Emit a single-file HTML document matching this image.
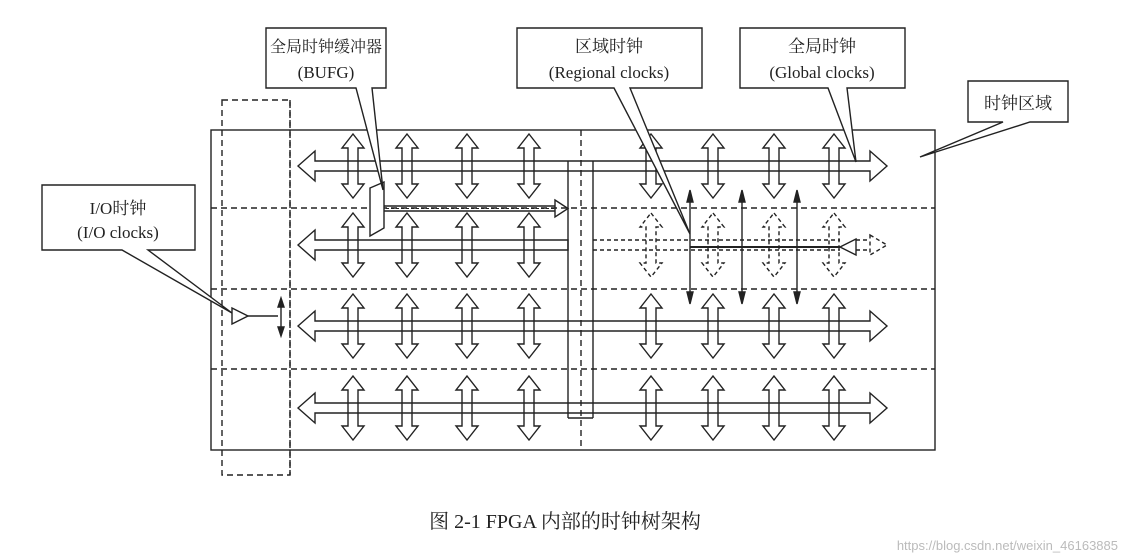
<!DOCTYPE html>
<html><head><meta charset="utf-8"><style>
html,body{margin:0;padding:0;background:#fff;}
svg{display:block;}
text{font-family:"Liberation Serif","Noto Serif CJK SC",serif;fill:#222;}
</style></head><body>
<svg id="s" width="1127" height="560" viewBox="0 0 1127 560" xmlns="http://www.w3.org/2000/svg">
<g stroke="#222" fill="none" stroke-width="1.4">
<rect x="211" y="130" width="724" height="320"/>
<rect x="222" y="100" width="68" height="375" stroke-dasharray="6,4"/>
<line x1="290" y1="100" x2="290" y2="475" stroke-dasharray="6,4"/>
<line x1="211" y1="208" x2="935" y2="208" stroke-dasharray="6,4"/>
<line x1="211" y1="289" x2="935" y2="289" stroke-dasharray="6,4"/>
<line x1="211" y1="369" x2="935" y2="369" stroke-dasharray="6,4"/>
<line x1="581" y1="130" x2="581" y2="450" stroke-dasharray="6,4"/>
<line x1="568" y1="161" x2="568" y2="418"/>
<line x1="593" y1="161" x2="593" y2="418"/>
<line x1="568" y1="418" x2="593" y2="418"/>
</g>
<g id="shapes" stroke="#222" fill="none" stroke-width="1.4"></g>
<g stroke="#222" fill="#fff" stroke-width="1.4">
<path d="M266,28 H386 V88 H372 L383,190 L356,88 H266 Z"/>
<path d="M517,28 H702 V88 H630 L690,234 L614,88 H517 Z"/>
<path d="M740,28 H905 V88 H847 L856,162 L828,88 H740 Z"/>
<path d="M968,81 H1068 V122 H1030 L920,157 L1003,122 H968 Z"/>
<path d="M42,185 H195 V250 H148 L232,313 L122,250 H42 Z"/>
</g>
<g font-size="17" text-anchor="middle">
<text x="326" y="52" font-size="16">全局时钟缓冲器</text>
<text x="326" y="78">(BUFG)</text>
<text x="609" y="52">区域时钟</text>
<text x="609" y="78">(Regional clocks)</text>
<text x="822" y="52">全局时钟</text>
<text x="822" y="78">(Global clocks)</text>
<text x="1018" y="109">时钟区域</text>
<text x="118" y="214">I/O时钟</text>
<text x="118" y="238">(I/O clocks)</text>
</g>
<text x="565" y="528" font-size="20" text-anchor="middle">图 2-1 FPGA 内部的时钟树架构</text>
<text x="1118" y="550" font-size="13" text-anchor="end" style="font-family:'Liberation Sans',sans-serif;fill:#bbb">https://blog.csdn.net/weixin_46163885</text>
</svg>
<script>
var g=document.getElementById('shapes'),NS='http://www.w3.org/2000/svg';
function P(pts,attrs){var e=document.createElementNS(NS,'polygon');e.setAttribute('points',pts.map(function(p){return p.join(',')}).join(' '));for(var k in attrs)e.setAttribute(k,attrs[k]);g.appendChild(e);}
function L(x1,y1,x2,y2,attrs){var e=document.createElementNS(NS,'line');e.setAttribute('x1',x1);e.setAttribute('y1',y1);e.setAttribute('x2',x2);e.setAttribute('y2',y2);for(var k in attrs)e.setAttribute(k,attrs[k]);g.appendChild(e);}
function V(cx,cy,a){P([[cx,cy-32],[cx+11,cy-18],[cx+5,cy-18],[cx+5,cy+18],[cx+11,cy+18],[cx,cy+32],[cx-11,cy+18],[cx-5,cy+18],[cx-5,cy-18],[cx-11,cy-18]],a||{});}
function H2(cy,x1,x2){P([[x1,cy],[x1+17,cy-15],[x1+17,cy-5],[x2-17,cy-5],[x2-17,cy-15],[x2,cy],[x2-17,cy+15],[x2-17,cy+5],[x1+17,cy+5],[x1+17,cy+15]]);}
var rows=[166,245,326,408];
H2(166,298,887);H2(326,298,887);H2(408,298,887);
P([[298,245],[315,230],[315,240],[568,240],[568,250],[315,250],[315,260]]);
var d={'stroke-dasharray':'4,3'};
L(593,240,840,240,d);L(593,250,840,250,d);
P([[870,235],[887,245],[870,255]],{'stroke-dasharray':'4,3'});
L(856,240,870,240,d);L(856,250,870,250,d);
var xl=[353,407,467,529],xr=[651,713,774,834];
rows.forEach(function(r,i){xl.forEach(function(x){V(x,r);});xr.forEach(function(x){V(x,r,i==1?{'stroke-dasharray':'4,3'}:{});});});
[690,742,797].forEach(function(x){L(x,192,x,302);P([[x,190],[x+3,202],[x-3,202]],{fill:'#222'});P([[x,304],[x+3,292],[x-3,292]],{fill:'#222'});});
L(690,247,840,247,{'stroke-width':2});
P([[840,247],[856,239],[856,255]],{fill:'#fff'});
P([[370,188],[384,182],[384,228],[370,236]],{fill:'#fff'});
L(384,206,555,206);L(384,211,555,211);L(386,208.5,555,208.5,{'stroke-dasharray':'3,2','stroke-width':1});
P([[555,200],[568,208.5],[555,217]]);
P([[232,308],[248,316],[232,324]],{fill:'#fff'});
L(248,316,278,316);
L(281,300,281,334);P([[281,298],[284,307],[278,307]],{fill:'#222'});P([[281,336],[284,327],[278,327]],{fill:'#222'});
</script>
</body></html>
